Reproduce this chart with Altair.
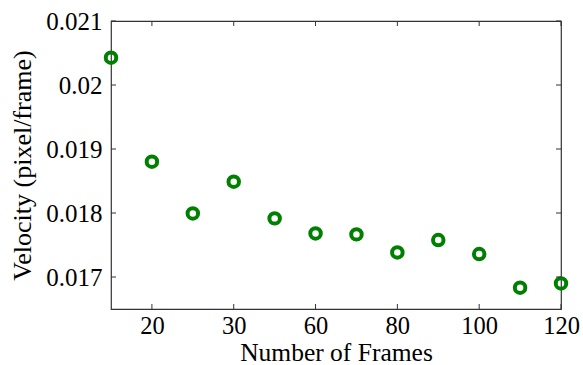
import altair as alt
import pandas as pd

frames = ["15", "20", "25", "30", "40", "60", "70", "80", "90", "100", "110", "120"]
velocity = [0.020427, 0.018802, 0.017994, 0.018489, 0.017916, 0.017681,
            0.017666, 0.017384, 0.017578, 0.017359, 0.016833, 0.016900]
x_tick_labels = ["20", "30", "60", "80", "100", "120"]
y_ticks = [0.017, 0.018, 0.019, 0.020, 0.021]

df = pd.DataFrame({"frames": frames, "velocity": velocity})
xt = pd.DataFrame({"frames": x_tick_labels})
yt = pd.DataFrame({"v": y_ticks})

W, H = 450, 288
FONT = "Liberation Serif"
GREEN = "#008000"
TICK = "#333333"

xscale = alt.Scale(type="point", domain=frames, padding=0)
yscale = alt.Scale(domain=[0.0165, 0.021], nice=False, zero=False)

points = alt.Chart(df).mark_point(
    shape="circle", filled=False, color=GREEN, strokeWidth=4, size=110, opacity=1
).encode(
    x=alt.X("frames:O", scale=xscale, sort=frames,
            axis=alt.Axis(values=x_tick_labels, labelAngle=0, title="Number of Frames",
                          domain=False, ticks=False, tickSize=0, grid=False,
                          labelFont=FONT, labelFontSize=24.5, labelColor="black",
                          labelPadding=5, titleFont=FONT, titleFontSize=25.5,
                          titleFontWeight="normal", titleColor="black",
                          titleY=51, titleBaseline="alphabetic")),
    y=alt.Y("velocity:Q", scale=yscale,
            axis=alt.Axis(values=y_ticks, format="~g", title="Velocity (pixel/frame)",
                          domain=False, ticks=False, tickSize=0, grid=False,
                          labelFont=FONT, labelFontSize=25, labelColor="black",
                          labelPadding=9, labelBaseline="middle",
                          titleFont=FONT, titleFontSize=26, titleFontWeight="normal",
                          titleColor="black", titleAngle=270, titleX=-76, titleY=H / 2,
                          titleAlign="center", titleBaseline="bottom")),
)

tb = alt.Chart(xt).mark_rule(color=TICK, strokeWidth=1).encode(
    x=alt.X("frames:O", scale=xscale), y=alt.value(H), y2=alt.value(H - 5))
tt = alt.Chart(xt).mark_rule(color=TICK, strokeWidth=1).encode(
    x=alt.X("frames:O", scale=xscale), y=alt.value(0), y2=alt.value(5))
tl = alt.Chart(yt).mark_rule(color=TICK, strokeWidth=1).encode(
    y=alt.Y("v:Q", scale=yscale), x=alt.value(0), x2=alt.value(5))
tr = alt.Chart(yt).mark_rule(color=TICK, strokeWidth=1).encode(
    y=alt.Y("v:Q", scale=yscale), x=alt.value(W), x2=alt.value(W - 5))

chart = alt.layer(points, tb, tt, tl, tr).properties(
    width=W, height=H,
    autosize=alt.AutoSizeParams(type="none"),
    padding={"left": 111, "top": 21, "right": 22, "bottom": 56},
).configure(
    background="white",
    view=alt.ViewConfig(stroke=TICK, strokeWidth=1.2),
)

chart.save("out.html", embed_options={"renderer": "svg", "actions": False})
